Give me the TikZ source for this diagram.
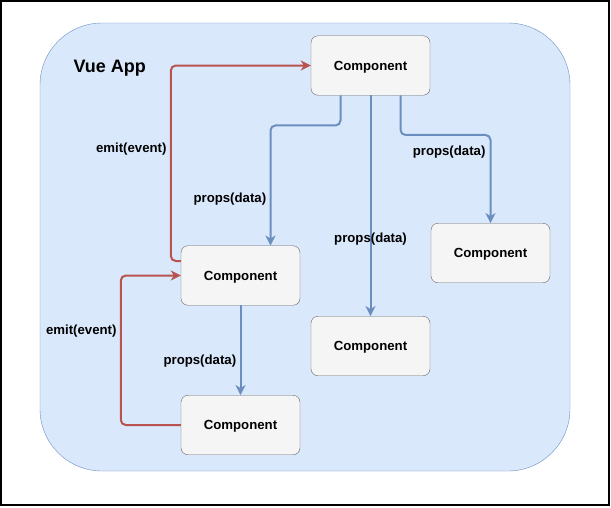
\documentclass[tikz,border=0pt]{standalone}
\usepackage{fontspec}
\setmainfont{Liberation Sans}
\usetikzlibrary{arrows.meta}

\definecolor{appfill}{HTML}{DAE8FC}
\definecolor{appline}{HTML}{6C8EBF}
\definecolor{compfill}{HTML}{F5F5F5}
\definecolor{compline}{HTML}{666666}
\definecolor{emitred}{HTML}{B85450}

\begin{document}
\begin{tikzpicture}[x=1pt, y=-1pt, font=\bfseries\fontsize{13.2}{15}\selectfont, text depth=0pt,
    props/.style={draw=appline, line width=2pt, rounded corners=5pt, -{Stealth[length=10pt,width=10pt,inset=3pt]}},
    emit/.style={draw=emitred, line width=2pt, rounded corners=5pt, -{Stealth[length=10pt,width=10pt,inset=3pt]}}]
                \useasboundingbox (0,0) rectangle (611,507);
                \draw[line width=1.5pt] (1,1) rectangle (609,505);
                % the app
                \draw[draw=appline, fill=appfill, rounded corners=62pt] (40,23) rectangle (570,471);
                \node[anchor=west, font=\bfseries\fontsize{18}{20}\selectfont] (app) at (70,66) {Vue App};
                \begin{scope}[every node/.style={rectangle, rounded corners=7pt, draw=compline, fill=compfill, minimum width=119pt, minimum height=59.5pt}]
                \node (cTop) at (370.5,65.5) {Component};
                \node (cRight) at (490.5,253) {Component};
                \node (cMid) at (370.5,346) {Component};
                \node (cLeft) at (240.5,275.5) {Component};
                \node (cBot) at (240.5,425) {Component};
                \end{scope}
                % props go down
                \draw[props] ([xshift=-30pt]cTop.south) -- ++(0,30) -| node[pos=0.8, left=0pt]{props(data)} ([xshift=30pt]cLeft.north);
                \draw[props] (cTop.south) -- node[pos=0.647]{props(data)} (cMid.north);
                \draw[props] ([xshift=30pt]cTop.south) -- ++(0,39.5) -| node[pos=0.27, below=7pt]{props(data)} (cRight.north);
                \draw[props] (cLeft.south) -- node[pos=0.6, left=0pt]{props(data)} (cBot.north);
                % emit goes up
                \draw[emit] ([yshift=14.5pt]cLeft.west) -- ++(-10,0) |- node[pos=0.29, left=0pt]{emit(event)} (cTop.west);
                \draw[emit] (cBot.west) -- ++(-60,0) |- node[pos=0.32, left=0pt]{emit(event)} (cLeft.west);
                \end{tikzpicture}
\end{document}
